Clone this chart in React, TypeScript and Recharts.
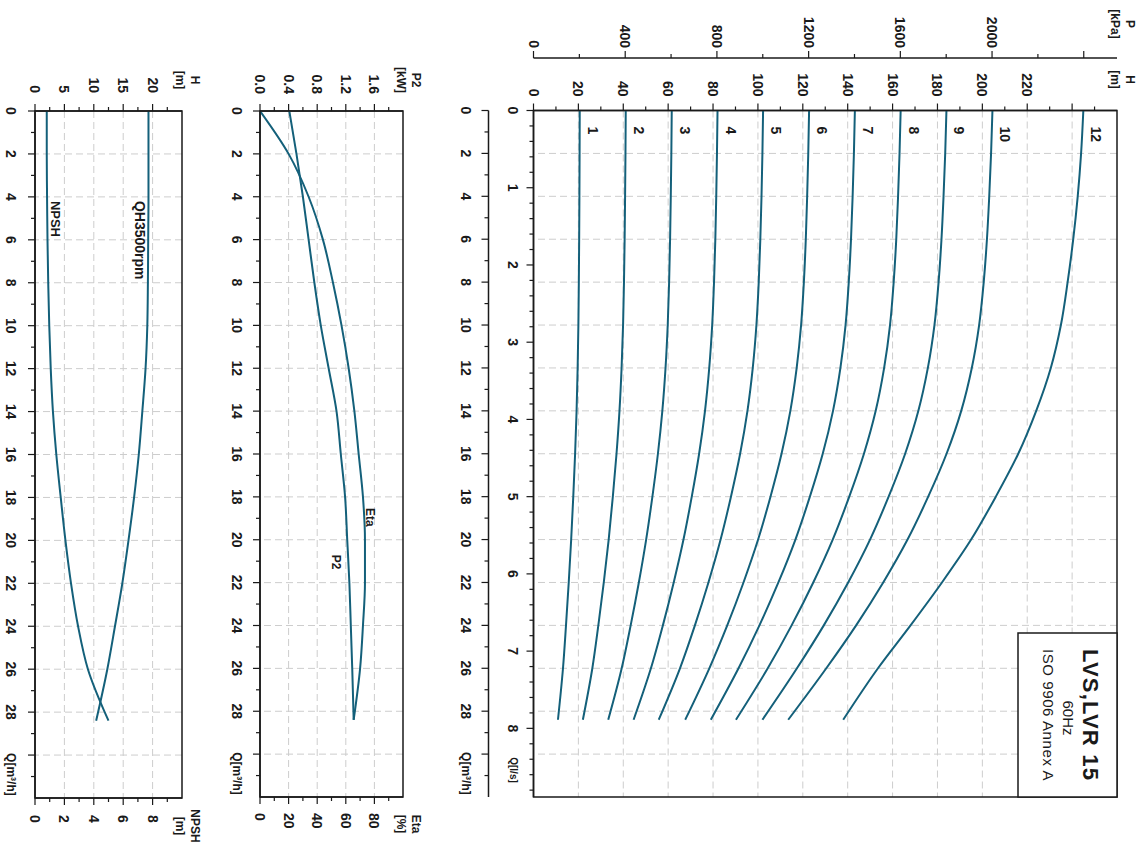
import React from "react";
import { LineChart, Line, XAxis, YAxis, CartesianGrid, ReferenceArea } from "recharts";

// flow points (m3/h) shared by every curve
const flow = [0, 2, 4, 6, 8, 10, 12, 14, 16, 18, 20, 22, 24, 26, 28.4];

// head per number of stages (m)
const stages = ["1", "2", "3", "4", "5", "6", "7", "8", "9", "10", "12"];
const head1 = [20.6, 20.54, 20.46, 20.35, 20.2, 20.0, 19.67, 19.2, 18.54, 17.72, 16.79, 15.7, 14.48, 13.14, 10.9];
const head2 = [41.1, 40.98, 40.81, 40.61, 40.32, 39.91, 39.25, 38.31, 36.99, 35.35, 33.5, 31.32, 28.89, 26.22, 22.0];
const head3 = [61.6, 61.42, 61.17, 60.86, 60.43, 59.81, 58.83, 57.41, 55.44, 52.98, 50.2, 46.94, 43.3, 39.3, 33.3];
const head4 = [82, 81.75, 81.43, 81.02, 80.44, 79.62, 78.31, 76.42, 73.8, 70.52, 66.83, 62.48, 57.65, 52.32, 44.6];
const head5 = [102.3, 102, 101.6, 101.07, 100.36, 99.33, 97.7, 95.34, 92.07, 87.98, 83.37, 77.95, 71.92, 65.27, 55.8];
const head6 = [122.8, 122.43, 121.94, 121.33, 120.47, 119.24, 117.27, 114.45, 110.52, 105.6, 100.08, 93.57, 86.33, 78.35, 67.6];
const head7 = [143.2, 142.77, 142.2, 141.48, 140.48, 139.05, 136.76, 133.46, 128.88, 123.15, 116.71, 109.12, 100.67, 91.36, 79.0];
const head8 = [163.6, 163.1, 162.45, 161.64, 160.49, 158.86, 156.24, 152.48, 147.24, 140.7, 133.33, 124.66, 115.01, 104.38, 90.2];
const head9 = [184, 183.45, 182.71, 181.79, 180.5, 178.66, 175.72, 171.49, 165.6, 158.24, 149.96, 140.21, 129.35, 117.39, 102.0];
const head10 = [204.5, 203.89, 203.07, 202.05, 200.61, 198.57, 195.3, 190.59, 184.05, 175.87, 166.67, 155.83, 143.76, 130.47, 113.5];
const head12 = [245, 244, 242.5, 240.5, 238, 235, 230.5, 224, 216, 206, 195, 182, 168, 153.5, 138];
const headCurves = [head1, head2, head3, head4, head5, head6, head7, head8, head9, head10, head12];

// power / efficiency (one stage)
const p2Power = [0.41, 0.51, 0.6, 0.68, 0.76, 0.85, 0.96, 1.07, 1.13, 1.19, 1.22, 1.25, 1.27, 1.29, 1.31];
const etaEff = [0, 20, 34, 44, 51, 57, 62, 66, 69, 72, 73.4, 73.4, 72, 70, 65.5];

// QH at 3500 rpm and NPSH
const qh3500 = [19.3, 19.3, 19.3, 19.25, 19.2, 19.1, 18.8, 18.25, 17.65, 16.85, 15.9, 14.85, 13.6, 12.3, 10.4];
const npshReq = [0.8, 0.8, 0.82, 0.85, 0.9, 0.97, 1.07, 1.22, 1.45, 1.75, 2.07, 2.45, 2.93, 3.6, 5.0];

// ticks
const qMajor = [0, 2, 4, 6, 8, 10, 12, 14, 16, 18, 20, 22, 24, 26, 28, 30];
const qMinor = [1, 3, 5, 7, 9, 11, 13, 15, 17, 19, 21, 23, 25, 27, 29, 31];
const lsMajor = [0, 1, 2, 3, 4, 5, 6, 7, 8];
const lsMinor = [0.2, 0.4, 0.6, 0.8, 1.2, 1.4, 1.6, 1.8, 2.2, 2.4, 2.6, 2.8, 3.2, 3.4, 3.6, 3.8, 4.2, 4.4, 4.6, 4.8,
  5.2, 5.4, 5.6, 5.8, 6.2, 6.4, 6.6, 6.8, 7.2, 7.4, 7.6, 7.8, 8.2, 8.4, 8.6, 8.8];
const hMajor = [0, 20, 40, 60, 80, 100, 120, 140, 160, 180, 200, 220, 240];
const hLabels = [0, 20, 40, 60, 80, 100, 120, 140, 160, 180, 200, 220];
const hMinor = [10, 30, 50, 70, 90, 110, 130, 150, 170, 190, 210, 230, 250];
const pMajor = [0, 400, 800, 1200, 1600, 2000, 2400];
const pLabels = [0, 400, 800, 1200, 1600, 2000];
const pMinor = [200, 600, 1000, 1400, 1800, 2200];
const p2Major = [0, 0.4, 0.8, 1.2, 1.6];
const p2Minor = [0.2, 0.6, 1.0, 1.4, 1.8];
const etaMajor = [0, 20, 40, 60, 80];
const etaMinor = [10, 30, 50, 70, 90];
const hbMajor = [0, 5, 10, 15, 20];
const hbMinor = [2.5, 7.5, 12.5, 17.5, 22.5];
const npMajor = [0, 2, 4, 6, 8];
const npMinor = [1, 3, 5, 7, 9];

const FONT = "'Liberation Sans', Arial, Helvetica, sans-serif";
const INK = "#1a1a1a";
const CURVE = "#14607a";
const GRID = "#cdcdcd";

type Title = { at: number; lines: string[] };
type TickOpts = {
  labels?: number[];
  fmt?: (v: number) => string;
  gap?: number;
  size?: number;
  title?: Title;
  titleOff?: number;
  titleSize?: number;
};

function tickRenderer(side: "bottom" | "left" | "right", majors: number[], opts: TickOpts = {}) {
  const { labels = majors, fmt = (v: number) => String(v), gap = 15, size = 14, title, titleOff = 31, titleSize = 12 } = opts;
  return (p: any) => {
    const x = p.x;
    const y = p.y;
    const v = p.payload.value;
    const key = `${side}-${v}`;
    const major = majors.includes(v);
    const len = major ? 7 : 4;
    const txt = { fontFamily: FONT, fontWeight: 700, fill: INK };
    if (side === "bottom") {
      const isTitle = title && v === title.at;
      return (
        <g key={key}>
          <line x1={x} y1={y} x2={x} y2={y + len} stroke={INK} strokeWidth={1.2} />
          {isTitle ? (
            <text x={x - 2} y={y + gap} dominantBaseline="central" textAnchor="start" fontSize={titleSize} {...txt}>
              {title!.lines[0]}
            </text>
          ) : labels.includes(v) ? (
            <text x={x} y={y + gap} dominantBaseline="central" textAnchor="middle" fontSize={size} {...txt}>
              {fmt(v)}
            </text>
          ) : null}
        </g>
      );
    }
    const dir = side === "left" ? -1 : 1;
    if (title && v === title.at) {
      return (
        <g key={key}>
          <text x={x + dir * titleOff} y={y - 13} dominantBaseline="central" textAnchor="middle" fontSize={titleSize} {...txt}>
            {title.lines[0]}
          </text>
          <text x={x + dir * titleOff} y={y + 2} dominantBaseline="central" textAnchor="middle" fontSize={titleSize} {...txt}>
            {title.lines[1]}
          </text>
        </g>
      );
    }
    return (
      <g key={key}>
        <line x1={x} y1={y} x2={x + dir * len} y2={y} stroke={INK} strokeWidth={1.2} />
        {labels.includes(v) && (
          <text x={x + dir * gap} y={y} dominantBaseline="central" textAnchor={side === "left" ? "end" : "start"} fontSize={size} {...txt}>
            {fmt(v)}
          </text>
        )}
      </g>
    );
  };
}

// text tag drawn next to one point of a curve
function curveTag(text: string, at: number, dx: number, dy: number, size = 14) {
  return (p: any) =>
    p.index === at ? (
      <text key={`tag-${text}`} x={p.cx + dx} y={p.cy + dy} fontFamily={FONT} fontWeight={700} fontSize={size} fill={INK}>
        {text}
      </text>
    ) : (
      <g key={`tag-${text}-${p.index}`} />
    );
}

const axisLine = { stroke: INK, strokeWidth: 1.5 };
const qGrid = [2, 4, 6, 8, 10, 12, 14, 16, 18, 20, 22, 24, 26, 28, 30];

const headRows = flow.map((q, i) => {
  const row: Record<string, number> = { q, ls: q / 3.6 };
  stages.forEach((s, k) => {
    row[`s${s}`] = headCurves[k][i];
  });
  return row;
});
const powerRows = flow.map((q, i) => ({ q, p2: p2Power[i], eta: etaEff[i] }));
const npshRows = flow.map((q, i) => ({ q, qh: qh3500[i], npsh: npshReq[i] }));

function QAxis({ id = "q", height, gap = 23 }: { id?: string; height: number; gap?: number }) {
  return (
    <XAxis
      xAxisId={id}
      dataKey="q"
      type="number"
      domain={[0, 32]}
      allowDataOverflow
      ticks={[...qMajor, ...qMinor]}
      interval={0}
      height={height}
      tickSize={0}
      tickMargin={0}
      tickLine={false}
      axisLine={axisLine}
      tick={tickRenderer("bottom", qMajor, { gap, title: { at: 30, lines: ["Q[m³/h]"] } })}
    />
  );
}

function HeadChart() {
  return (
    <LineChart width={846} height={710} data={headRows} margin={{ top: 30, right: 49, bottom: 0, left: 0 }}>
      <CartesianGrid xAxisId="q" yAxisId="h" stroke={GRID} strokeDasharray="7 4" verticalValues={qGrid} horizontalValues={hMajor} />
      {QAxis({ height: 51.5 })}
      <XAxis
        xAxisId="ls"
        dataKey="ls"
        type="number"
        domain={[0, 32 / 3.6]}
        allowDataOverflow
        ticks={[...lsMajor, ...lsMinor]}
        interval={0}
        height={45}
        tickSize={0}
        tickMargin={0}
        tickLine={false}
        axisLine={axisLine}
        tick={tickRenderer("bottom", lsMajor, { gap: 20.5, title: { at: 8.4, lines: ["Q[l/s]"] }, titleSize: 10 })}
      />
      <YAxis
        yAxisId="h"
        type="number"
        domain={[0, 260]}
        allowDataOverflow
        ticks={[...hMajor, ...hMinor, 260]}
        interval={0}
        width={52.5}
        tickSize={0}
        tickMargin={0}
        tickLine={false}
        axisLine={axisLine}
        tick={tickRenderer("left", hMajor, { labels: hLabels, gap: 14, title: { at: 260, lines: ["H", "[m]"] }, titleOff: 31 })}
      />
      <YAxis
        yAxisId="p"
        type="number"
        domain={[0, 2545]}
        allowDataOverflow
        ticks={[...pMajor, ...pMinor, 2545]}
        interval={0}
        width={58}
        tickSize={0}
        tickMargin={0}
        tickLine={false}
        axisLine={axisLine}
        tick={tickRenderer("left", pMajor, { labels: pLabels, gap: 10, title: { at: 2545, lines: ["P", "[kPa]"] }, titleOff: 34 })}
      />
      <ReferenceArea xAxisId="q" yAxisId="h" x1={0} x2={32} y1={0} y2={260} fill="none" stroke={INK} strokeWidth={1.5} ifOverflow="visible" />
      {stages.map((s) => (
        <Line
          key={s}
          xAxisId="q"
          yAxisId="h"
          type="monotone"
          dataKey={`s${s}`}
          stroke={CURVE}
          strokeWidth={2}
          dot={curveTag(s, 0, 16, -8)}
          activeDot={false}
          isAnimationActive={false}
        />
      ))}
    </LineChart>
  );
}

function PowerChart() {
  return (
    <LineChart width={846} height={210} data={powerRows} margin={{ top: 30, right: 0, bottom: 0, left: 0 }}>
      <CartesianGrid xAxisId="q" yAxisId="p2" stroke={GRID} strokeDasharray="7 4" verticalValues={qGrid} horizontalValues={[0.4, 0.8, 1.2, 1.6]} />
      {QAxis({ height: 37 })}
      <YAxis
        yAxisId="p2"
        type="number"
        domain={[0, 2]}
        allowDataOverflow
        ticks={[...p2Major, ...p2Minor, 2]}
        interval={0}
        width={111}
        tickSize={0}
        tickMargin={0}
        tickLine={false}
        axisLine={axisLine}
        tick={tickRenderer("left", p2Major, { fmt: (v) => v.toFixed(1), gap: 17, title: { at: 2, lines: ["P2", "[kW]"] } })}
      />
      <YAxis
        yAxisId="eta"
        orientation="right"
        type="number"
        domain={[0, 100]}
        allowDataOverflow
        ticks={[...etaMajor, ...etaMinor, 100]}
        interval={0}
        width={49}
        tickSize={0}
        tickMargin={0}
        tickLine={false}
        axisLine={axisLine}
        tick={tickRenderer("right", etaMajor, { gap: 16, title: { at: 100, lines: ["Eta", "[%]"] }, titleOff: 27 })}
      />
      <ReferenceArea xAxisId="q" yAxisId="p2" x1={0} x2={32} y1={0} y2={2} fill="none" stroke={INK} strokeWidth={1.5} ifOverflow="visible" />
      <Line xAxisId="q" yAxisId="eta" type="monotone" dataKey="eta" stroke={CURVE} strokeWidth={2} dot={curveTag("Eta", 9, 11, -3, 12)} activeDot={false} isAnimationActive={false} />
      <Line xAxisId="q" yAxisId="p2" type="monotone" dataKey="p2" stroke={CURVE} strokeWidth={2} dot={curveTag("P2", 10, 15, 15, 12)} activeDot={false} isAnimationActive={false} />
    </LineChart>
  );
}

function NpshChart() {
  return (
    <LineChart width={846} height={212} data={npshRows} margin={{ top: 30, right: 0, bottom: 0, left: 0 }}>
      <CartesianGrid xAxisId="q" yAxisId="hb" stroke={GRID} strokeDasharray="7 4" verticalValues={qGrid} horizontalValues={[5, 10, 15, 20]} />
      {QAxis({ height: 35, gap: 24 })}
      <YAxis
        yAxisId="hb"
        type="number"
        domain={[0, 25]}
        allowDataOverflow
        ticks={[...hbMajor, ...hbMinor, 25]}
        interval={0}
        width={111}
        tickSize={0}
        tickMargin={0}
        tickLine={false}
        axisLine={axisLine}
        tick={tickRenderer("left", hbMajor, { gap: 18, title: { at: 25, lines: ["H", "[m]"] } })}
      />
      <YAxis
        yAxisId="np"
        orientation="right"
        type="number"
        domain={[0, 10]}
        allowDataOverflow
        ticks={[...npMajor, ...npMinor, 10]}
        interval={0}
        width={48}
        tickSize={0}
        tickMargin={0}
        tickLine={false}
        axisLine={axisLine}
        tick={tickRenderer("right", npMajor, { gap: 17, title: { at: 10, lines: ["NPSH", "[m]"] }, titleOff: 28 })}
      />
      <ReferenceArea xAxisId="q" yAxisId="hb" x1={0} x2={32} y1={0} y2={25} fill="none" stroke={INK} strokeWidth={1.5} ifOverflow="visible" />
      <Line xAxisId="q" yAxisId="hb" type="monotone" dataKey="qh" stroke={CURVE} strokeWidth={2} dot={curveTag("QH3500rpm", 2, 4, 13, 14)} activeDot={false} isAnimationActive={false} />
      <Line xAxisId="q" yAxisId="np" type="monotone" dataKey="npsh" stroke={CURVE} strokeWidth={2} dot={curveTag("NPSH", 2, 4, -4, 13)} activeDot={false} isAnimationActive={false} />
    </LineChart>
  );
}

export default function App() {
  return (
    <div style={{ position: "absolute", left: 0, top: 0, width: 1147, height: 846, overflow: "hidden", background: "#fff" }}>
      {/* the sheet is portrait, scanned turned a quarter clockwise */}
      <div
        style={{
          position: "absolute",
          left: 0,
          top: 0,
          width: 846,
          height: 1147,
          transformOrigin: "0 0",
          transform: "translate(1147px, 0) rotate(90deg)",
          fontFamily: FONT,
        }}
      >
        <div style={{ position: "absolute", left: 0, top: 0 }}>
          <HeadChart />
        </div>
        <div style={{ position: "absolute", left: 0, top: 714 }}>
          <PowerChart />
        </div>
        <div style={{ position: "absolute", left: 0, top: 935 }}>
          <NpshChart />
        </div>
        <svg width={846} height={1147} style={{ position: "absolute", left: 0, top: 0, pointerEvents: "none" }}>
          <rect x={633} y={30} width={164} height={99} fill="#fff" stroke={INK} strokeWidth={1.5} />
          <text x={715} y={64} textAnchor="middle" fontFamily={FONT} fontWeight={700} fontSize={22} letterSpacing={1.2} fill={INK}>
            LVS,LVR 15
          </text>
          <text x={718} y={84} textAnchor="middle" fontFamily={FONT} fontSize={15} fill={INK}>
            60Hz
          </text>
          <text x={715} y={104} textAnchor="middle" fontFamily={FONT} fontSize={15} letterSpacing={0.6} fill={INK}>
            ISO 9906 Annex A
          </text>
        </svg>
      </div>
    </div>
  );
}
